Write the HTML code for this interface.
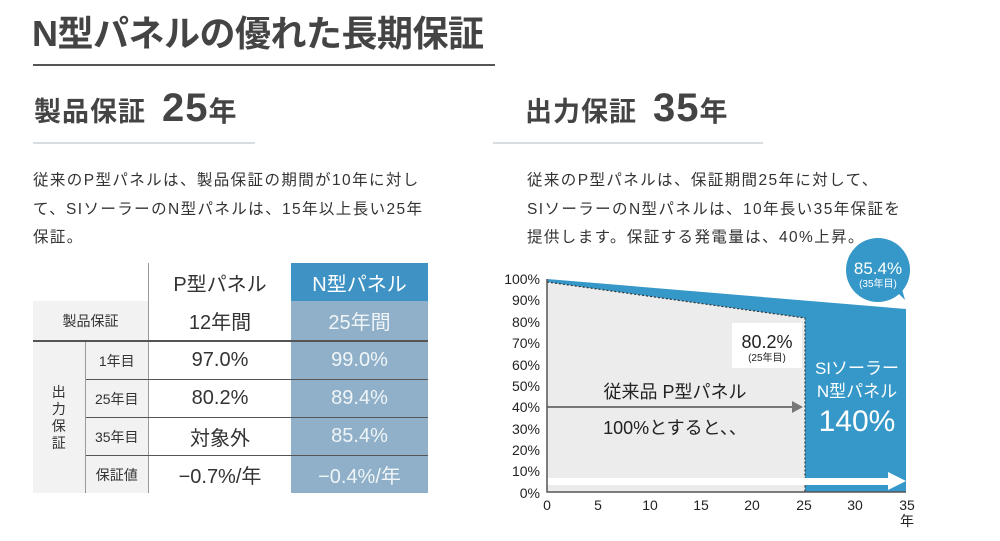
<!DOCTYPE html>
<html><head><meta charset="utf-8"><style>
body{margin:0;width:1000px;height:541px;background:#fff;position:relative;overflow:hidden;font-family:"Liberation Sans","Noto Sans CJK JP",sans-serif;color:#333}
.a{position:absolute;white-space:nowrap}
.t{font-size:36px;font-weight:bold;color:#444;left:32px;top:5px;letter-spacing:-0.5px}
.h{font-size:27px;font-weight:bold;color:#444;letter-spacing:1px}
.h b{font-size:40px;margin-left:16px}
.p{font-size:15.5px;line-height:28.5px;color:#333;letter-spacing:1.4px}
table{position:absolute;left:33px;top:263px;border-collapse:collapse;font-size:20px}
td{padding:0;text-align:center;height:37px}
.s{font-size:14px}
.g{background:#f2f2f2}
.n{background:#8fb0c8;color:#f0f5f8}
</style></head><body>
<div class="a t">N型パネルの優れた長期保証</div>
<div class="a" style="left:33px;top:64px;width:462px;height:2px;background:#555"></div>
<div class="a h" style="left:34px;top:86px">製品保証<b>25</b><span style="font-size:28px">年</span></div>
<div class="a" style="left:33px;top:142px;width:222px;height:2px;background:#d8dde2"></div>
<div class="a p" style="left:33px;top:167px">従来のP型パネルは、製品保証の期間が10年に対し<br>て、SIソーラーのN型パネルは、15年以上長い25年<br>保証。</div>
<div class="a h" style="left:525px;top:86px">出力保証<b>35</b><span style="font-size:28px">年</span></div>
<div class="a" style="left:493px;top:142px;width:270px;height:2px;background:#d8dde2"></div>
<div class="a p" style="left:527px;top:167px">従来のP型パネルは、保証期間25年に対して、<br>SIソーラーのN型パネルは、10年長い35年保証を<br>提供します。保証する発電量は、40%上昇。</div>

<table>
<tr style="height:38px"><td style="width:52px"></td><td style="width:63px"></td><td style="width:142px;border-left:1px solid #999">P型パネル</td><td class="n" style="width:137px;background:#3e93c4;color:#fff">N型パネル</td></tr>
<tr style="height:40px"><td colspan="2" class="g s" style="border-bottom:2px solid #555">製品保証</td><td style="border-left:1px solid #999;border-bottom:2px solid #555">12年間</td><td class="n" style="border-bottom:2px solid #555">25年間</td></tr>
<tr><td rowspan="4" class="g s" style="line-height:17px;border-right:1px solid #999">出<br>力<br>保<br>証</td><td class="g s" style="border-bottom:1px solid #555">1年目</td><td style="border-left:1px solid #999;border-bottom:1px solid #555">97.0%</td><td class="n" style="border-bottom:1px solid #555">99.0%</td></tr>
<tr><td class="g s" style="border-bottom:1px solid #555">25年目</td><td style="border-left:1px solid #999;border-bottom:1px solid #555">80.2%</td><td class="n" style="border-bottom:1px solid #555">89.4%</td></tr>
<tr><td class="g s" style="border-bottom:1px solid #555">35年目</td><td style="border-left:1px solid #999;border-bottom:1px solid #555">対象外</td><td class="n" style="border-bottom:1px solid #555">85.4%</td></tr>
<tr><td class="g s">保証値</td><td style="border-left:1px solid #999">−0.7%/年</td><td class="n">−0.4%/年</td></tr>
</table>

<svg class="a" style="left:0;top:0" width="1000" height="541" font-family="Liberation Sans, Noto Sans CJK JP, sans-serif">
<polygon points="547,279 906,309 906,492 547,492" fill="#3598c8"/>
<polygon points="547,282 805,318 805,492 547,492" fill="#ececec"/>
<polyline points="547,282 805,318 805,492" fill="none" stroke="#333" stroke-width="1.2" stroke-dasharray="2,2"/>
<rect x="547" y="478" width="345" height="7" fill="#fff"/>
<polygon points="888,472 906,481 888,490" fill="#fff"/>
<line x1="547" y1="407" x2="795" y2="407" stroke="#777" stroke-width="2"/>
<polygon points="792,401 803,407 792,413" fill="#777"/>
<path d="M547,279 V492 H906" fill="none" stroke="#555" stroke-width="1.5"/>
<g font-size="14" fill="#222" text-anchor="end">
<text x="540" y="284">100%</text><text x="540" y="305">90%</text><text x="540" y="327">80%</text><text x="540" y="348">70%</text><text x="540" y="370">60%</text><text x="540" y="391">50%</text><text x="540" y="412">40%</text><text x="540" y="434">30%</text><text x="540" y="455">20%</text><text x="540" y="476">10%</text><text x="540" y="498">0%</text>
</g>
<g font-size="14" fill="#222" text-anchor="middle">
<text x="547" y="510">0</text><text x="598" y="510">5</text><text x="650" y="510">10</text><text x="701" y="510">15</text><text x="752" y="510">20</text><text x="804" y="510">25</text><text x="855" y="510">30</text><text x="907" y="510">35</text><text x="907" y="526">年</text>
</g>
<rect x="732" y="323" width="70" height="45" fill="#fff"/>
<text x="767" y="348" font-size="18" text-anchor="middle" fill="#222">80.2%</text>
<text x="767" y="361" font-size="10" text-anchor="middle" fill="#222">(25年目)</text>
<text x="675" y="398" font-size="18" text-anchor="middle" fill="#222">従来品 P型パネル</text>
<text x="675" y="434" font-size="18" text-anchor="middle" fill="#222">100%とすると、、</text>
<text x="857" y="374" font-size="17" text-anchor="middle" fill="#fff">SIソーラー</text>
<text x="857" y="397" font-size="17" text-anchor="middle" fill="#fff">N型パネル</text>
<text x="857" y="431" font-size="30" text-anchor="middle" fill="#fff">140%</text>
<circle cx="878" cy="270" r="32" fill="#3598c8"/>
<polygon points="895,290 905,300 900,282" fill="#3598c8"/>
<text x="878" y="274" font-size="17" text-anchor="middle" fill="#fff">85.4%</text>
<text x="878" y="287" font-size="10" text-anchor="middle" fill="#fff">(35年目)</text>
</svg>
</body></html>
